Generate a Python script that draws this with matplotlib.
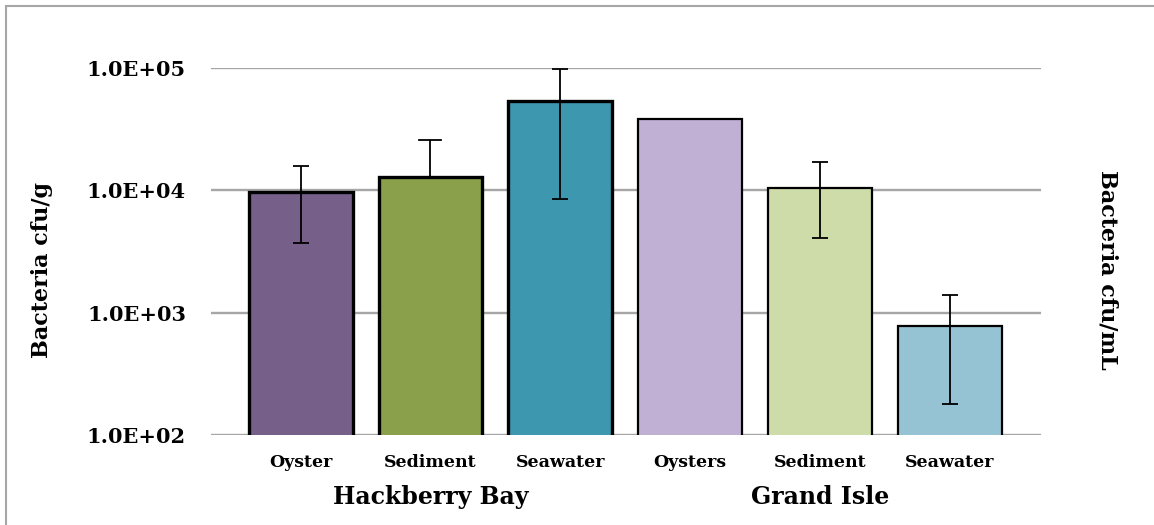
import numpy as np
import matplotlib
matplotlib.use("Agg")
import matplotlib.pyplot as plt
from matplotlib.patches import Rectangle

# sample types and sites
samples = ["Oyster", "Sediment", "Seawater", "Oysters", "Sediment", "Seawater"]
sites = ["Hackberry Bay", "Grand Isle"]

# mean counts (cfu/g or cfu/mL)
counts = [9700, 12900, 54000, 38000, 10500, 775]
# error bar ends (NaN = no bar on that side)
err_hi = [15750, 26000, 98000, np.nan, 17100, 1385]
err_lo = [3700, np.nan, 8500, np.nan, 4080, 180]

fills = ["#76608a", "#8aa04a", "#3d97ae", "#c0b0d3", "#cedcaa", "#96c3d3"]
edge_w = [2.4, 2.4, 2.4, 1.6, 1.6, 1.6]

plt.rcParams["font.family"] = "DejaVu Serif"
plt.rcParams["font.weight"] = "bold"

fig = plt.figure(figsize=(11.54, 5.25), dpi=100)
ax = fig.add_axes([0.1828, 0.1714, 0.7192, 0.6991])

x = np.arange(len(samples))
ax.bar(x, counts, width=0.8, bottom=0, color=fills, edgecolor="black",
       linewidth=edge_w, zorder=3)

# asymmetric error bars, drawn only where a value exists
for xi, c, hi, lo in zip(x, counts, err_hi, err_lo):
    if np.isnan(hi) and np.isnan(lo):
        continue
    up = 0 if np.isnan(hi) else hi - c
    down = 0 if np.isnan(lo) else c - lo
    if np.isnan(lo):
        ax.errorbar([xi], [c], yerr=[[0], [up]], fmt="none", ecolor="black",
                    elinewidth=1.3, capsize=0, zorder=4, clip_on=False)
        ax.plot([xi - 0.085, xi + 0.085], [hi, hi], color="black", lw=1.3,
                zorder=4, clip_on=False)
    else:
        ax.errorbar([xi], [c], yerr=[[down], [up]], fmt="none", ecolor="black",
                    elinewidth=1.3, capsize=5.5, capthick=1.3, zorder=4,
                    clip_on=False)

ax.set_yscale("log")
ax.set_ylim(100, 1e5)
ax.set_xlim(-0.69, 5.7)
ax.set_yticks([1e2, 1e3, 1e4, 1e5])
ax.set_yticklabels(["1.0E+02", "1.0E+03", "1.0E+04", "1.0E+05"], fontsize=15,
                   fontweight="bold")
ax.minorticks_off()
ax.set_xticks(x)
ax.set_xticklabels(samples, fontsize=12.5, fontweight="bold")
ax.tick_params(axis="both", length=0)
ax.tick_params(axis="y", pad=18)
ax.tick_params(axis="x", pad=14)
ax.grid(axis="y", color="#a6a6a6", linewidth=1.7, zorder=0)
for s in ax.spines.values():
    s.set_visible(False)

# site names under each group of three bars
for i, site in enumerate(sites):
    ax.text(1 + 3 * i, -0.169, site, transform=ax.get_xaxis_transform(),
            ha="center", va="center", fontsize=17, fontweight="bold")

fig.text(0.036, 0.485, "Bacteria cfu/g", rotation=90, ha="center",
         va="center", fontsize=16, fontweight="bold")
fig.text(0.96, 0.485, "Bacteria cfu/mL", rotation=270, ha="center",
         va="center", fontsize=16, fontweight="bold")

fig.patches.append(Rectangle((6 / 1154, -0.1), 2, 1.1 - 6 / 525,
                             transform=fig.transFigure, fill=False,
                             edgecolor="#a6a6a6", linewidth=1.5))

fig.savefig("out.png", dpi=100)
